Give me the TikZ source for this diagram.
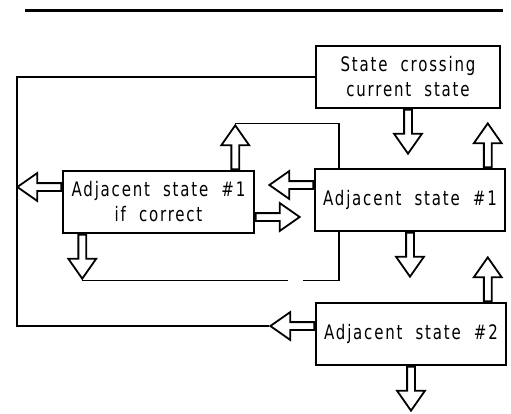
\documentclass[tikz,border=0pt]{standalone}
\usepackage{fontspec}
\newfontfamily\plotfont[FakeStretch=0.75,LetterSpace=9,WordSpace=2]{DejaVu Sans}
\usetikzlibrary{shapes.arrows,calc}

\tikzset{
  statebox/.style={draw, line width=1.5pt, minimum width=190pt, minimum height=62pt,
    align=center, inner sep=2pt, font=\plotfont\fontsize{20}{25}\selectfont},
  blockarrow/.style={single arrow, draw, line width=1.8pt, inner xsep=0pt, inner ysep=3pt,
    minimum height=44pt, single arrow head extend=10pt, single arrow tip angle=70},
  link/.style={line width=1.1pt}
}

\begin{document}
\begin{tikzpicture}[x=1pt,y=-1pt]
    \useasboundingbox (0,0) rectangle (511,413);
    % Rule on top
    \draw[line width=3pt] (25,10) -- (503,10);

    % States
    \node[statebox, minimum width=184pt] (cross) at (408,77) {State crossing\\current state};
    \node[statebox, minimum width=191pt] (corr) at (158.5,202) {Adjacent state \#1\\if correct};
    \node[statebox] (adj1) at (410,200) {Adjacent state \#1};
    \node[statebox] (adj2) at (411,334) {Adjacent state \#2};

    % Block arrows
    \node[blockarrow, rotate=-90, anchor=tail] (arX) at (cross.south) {};
    \node[blockarrow, rotate=180, anchor=tail] (arCl) at ($(corr.west)+(0,-15)$) {};
    \node[blockarrow, rotate=90, anchor=tail] (arCu) at ($(corr.north west)+(173,0)$) {};
    \node[blockarrow, rotate=-90, anchor=tail] (arCd) at ($(corr.south west)+(20,0)$) {};
    \node[blockarrow, anchor=tail] (arCr) at ($(corr.east)+(0,15)$) {};
    \node[blockarrow, rotate=180, anchor=tail] (arAl) at ($(adj1.west)+(0,-15)$) {};
    \node[blockarrow, rotate=90, anchor=tail] (arAu) at ($(adj1.north east)+(-18,0)$) {};
    \node[blockarrow, rotate=-90, anchor=tail] (arAd) at (adj1.south) {};
    \node[blockarrow, rotate=90, anchor=tail] (arBu) at ($(adj2.north east)+(-19,0)$) {};
    \node[blockarrow, rotate=180, anchor=tail] (arBl) at ($(adj2.west)+(0,-8)$) {};
    \node[blockarrow, rotate=-90, anchor=tail] (arBd) at (adj2.south) {};

    % Feedback lines
    \coordinate (lft) at (17,0);
    \coordinate (loopR) at (339,0);
    \draw[link] (cross.west) -| (lft |- arBl.tip) -- (arBl.tip);
    \draw[link] (arCu.tip) -| (loopR |- adj1.north);
    \draw[link] (loopR |- adj1.south) |- ($(loopR |- arCd.tip)+(-36,0)$);
    \draw[link] ($(loopR |- arCd.tip)+(-51,0)$) -- (arCd.tip);
\end{tikzpicture}
\end{document}
